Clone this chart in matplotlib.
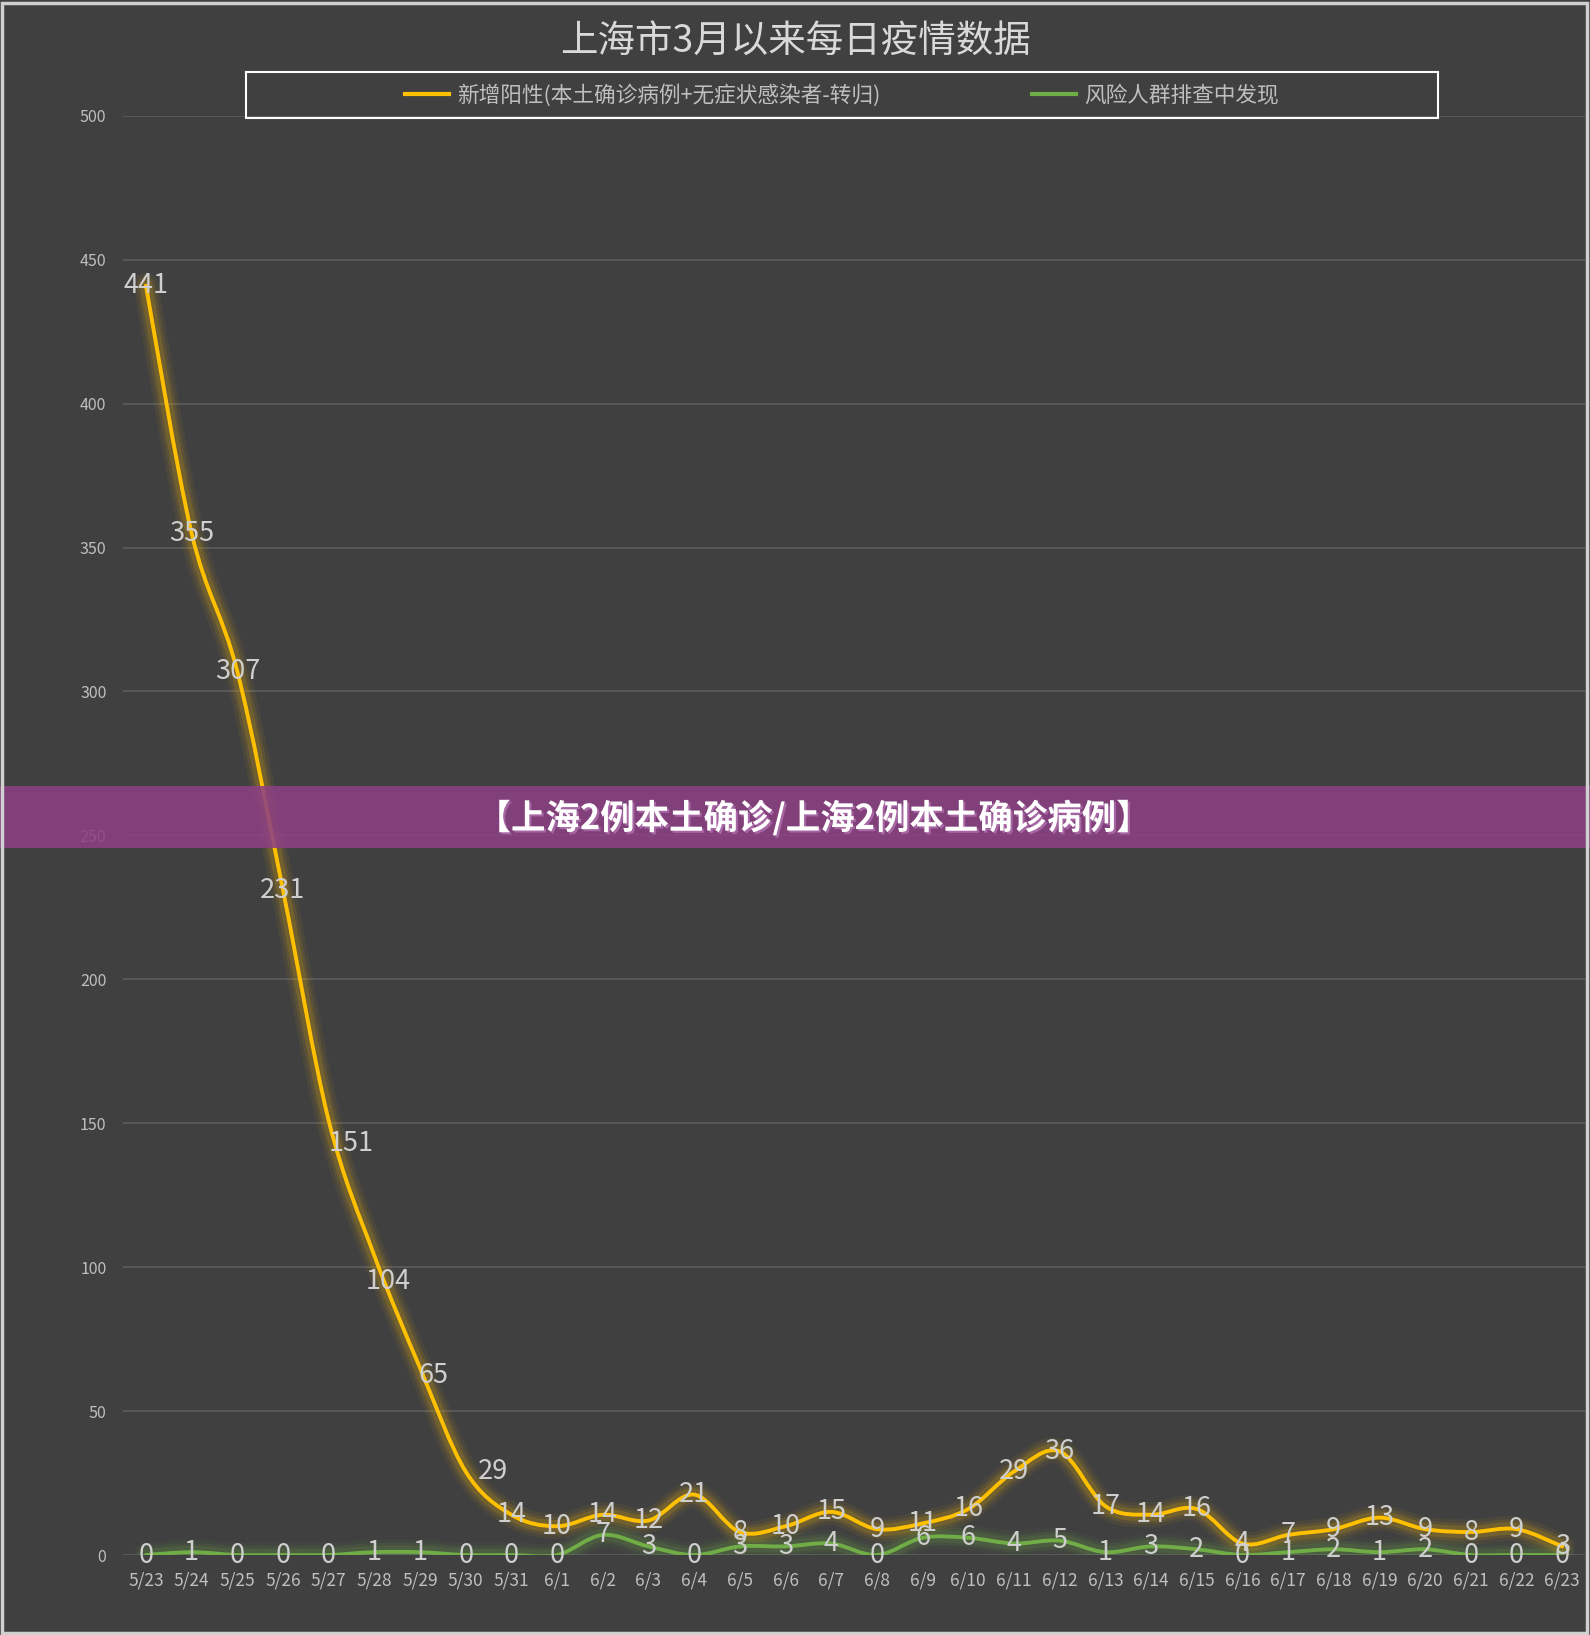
import numpy as np
import matplotlib
matplotlib.use("Agg")
import matplotlib.pyplot as plt
from matplotlib.path import Path
from matplotlib.patches import PathPatch, Rectangle
from matplotlib.lines import Line2D
import matplotlib.patheffects as pe

plt.rcParams['font.family'] = ['Noto Sans CJK SC', 'DejaVu Sans']

dates = ['5/23', '5/24', '5/25', '5/26', '5/27', '5/28', '5/29', '5/30', '5/31',
         '6/1', '6/2', '6/3', '6/4', '6/5', '6/6', '6/7', '6/8', '6/9', '6/10',
         '6/11', '6/12', '6/13', '6/14', '6/15', '6/16', '6/17', '6/18', '6/19',
         '6/20', '6/21', '6/22', '6/23']
positive = [441, 355, 307, 231, 151, 104, 65, 29, 14, 10, 14, 12, 21, 8, 10, 15,
            9, 11, 16, 29, 36, 17, 14, 16, 4, 7, 9, 13, 9, 8, 9, 3]
screening = [0, 1, 0, 0, 0, 1, 1, 0, 0, 0, 7, 3, 0, 3, 3, 4,
             0, 6, 6, 4, 5, 1, 3, 2, 0, 1, 2, 1, 2, 0, 0, 0]
yticks = list(range(0, 501, 50))

title = '上海市3月以来每日疫情数据'
name_pos = '新增阳性(本土确诊病例+无症状感染者-转归)'
name_scr = '风险人群排查中发现'
banner = '【上海2例本土确诊/上海2例本土确诊病例】'

BG = '#404040'
YELLOW = '#FFC000'
GREEN = '#70AD47'
TXT = '#d9d9d9'

# a few labels were dragged off their points in the original chart
label_shift = {4: (0.5, -8), 5: (0.3, -9), 6: (0.3, -2.5), 7: (0.6, 0)}


def smooth_path(xs, ys):
    # cubic bezier through the points (Excel-style smoothed line)
    pts = np.column_stack([xs, ys]).astype(float)
    verts = [pts[0]]
    codes = [Path.MOVETO]
    n = len(pts)
    for i in range(n - 1):
        p0 = pts[i - 1] if i > 0 else pts[i]
        p1, p2 = pts[i], pts[i + 1]
        p3 = pts[i + 2] if i + 2 < n else pts[i + 1]
        c1 = p1 + (p2 - p0) / 6.0
        c2 = p2 - (p3 - p1) / 6.0
        verts += [c1, c2, p2]
        codes += [Path.CURVE4] * 3
    return Path(verts, codes)


fig = plt.figure(figsize=(15.9, 16.35), dpi=100, facecolor=BG)
ax = fig.add_axes([0.0774, 0.0489, 0.9195, 0.8803])
ax.set_facecolor(BG)

x = np.arange(len(dates))

for vals, col in [(screening, GREEN), (positive, YELLOW)]:
    path = smooth_path(x, vals)
    for lw, a in [(18, 0.06), (13, 0.09), (9, 0.14)]:
        ax.add_patch(PathPatch(path, facecolor='none', edgecolor=col, lw=lw,
                               alpha=a, capstyle='round', joinstyle='round', zorder=2))
    ax.add_patch(PathPatch(path, facecolor='none', edgecolor=col, lw=2.8,
                           capstyle='round', joinstyle='round', zorder=3))

for xi, v in zip(x, screening):
    ax.text(xi, v, str(v), ha='center', va='center', fontsize=19.5,
            color='#cfcfcf', zorder=5)
for xi, v in zip(x, positive):
    dx, dy = label_shift.get(xi, (0, 0))
    ax.text(xi + dx, v + dy, str(v), ha='center', va='center', fontsize=19.5,
            color='#cfcfcf', zorder=5)

ax.set_xlim(-0.5, len(dates) - 0.5)
ax.set_ylim(0, 500)
ax.set_yticks(yticks)
ax.set_xticks(x)
ax.set_xticklabels(dates)
ax.tick_params(axis='both', length=0, colors='#bfbfbf')
ax.tick_params(axis='y', labelsize=11.5, pad=12)
ax.tick_params(axis='x', labelsize=12.5, pad=12)
for s in ax.spines.values():
    s.set_visible(False)
ax.grid(axis='y', color='#5a5a5a', lw=1.3)
ax.set_axisbelow(True)

fig.text(0.5, 0.974, title, ha='center', va='center', fontsize=27, color=TXT)

fig.patches.append(Rectangle((0.1547, 0.9278), 0.7497, 0.0281, transform=fig.transFigure,
                             facecolor='none', edgecolor='white', lw=1.5, zorder=6))
handles = [Line2D([], [], color=YELLOW, lw=3), Line2D([], [], color=GREEN, lw=3)]
fig.legend(handles, [name_pos, name_scr], loc='center', bbox_to_anchor=(0.5296, 0.9419),
           ncol=2, frameon=False, fontsize=15.6, labelcolor='#bfbfbf',
           handlelength=2.0, handletextpad=0.4, columnspacing=7.0)

# overlay banner
fig.patches.append(Rectangle((0, 1 - 848 / 1635), 1, 62 / 1635, transform=fig.transFigure,
                             facecolor='#8C4084', alpha=0.87, edgecolor='none', zorder=10))
fig.text(0.512, 1 - 818 / 1635, banner, ha='center', va='center', fontsize=24.8,
         fontweight='bold', color='white', zorder=11,
         path_effects=[pe.withSimplePatchShadow(offset=(1.5, -1.5), shadow_rgbFace='#c080c0', alpha=0.6)])

# outer frame
fig.patches.append(Rectangle((0.001, 0.001), 0.997, 0.997, transform=fig.transFigure,
                             facecolor='none', edgecolor='#d0d0d0', lw=2.5, zorder=12))

fig.savefig('out.png', dpi=100, facecolor=BG)
